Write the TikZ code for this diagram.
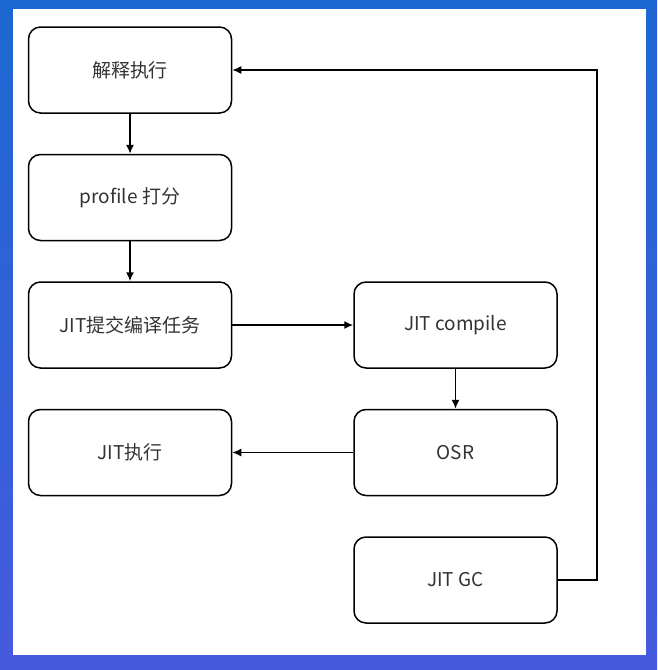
\documentclass[tikz,border=0pt]{standalone}
\usepackage{fontspec}
\setmainfont{Noto Sans CJK SC}
\usetikzlibrary{arrows.meta,positioning,shapes}
\definecolor{frametop}{RGB}{28,104,208}
\definecolor{framebot}{RGB}{70,90,222}

\begin{document}
\begin{tikzpicture}[x=1pt, y=1pt, node distance=40pt and 121pt, >={Latex[length=9pt,width=8pt]}, line width=1.5pt,
             block/.style = {draw, rectangle, rounded corners=12pt, minimum height=86pt, minimum width=203pt,
                             align=center, text=black!80, font=\fontsize{19}{23}\selectfont},
]
\shade[top color=frametop, bottom color=framebot, draw=none] (0,0) rectangle (657,-670);
\fill[white] (13,-9) rectangle (646,-655);
\useasboundingbox (0,0) rectangle (657,-670);
\node [block] at (130,-70)          (interp)  {解释执行};
\node [block, below=of interp]      (prof)    {profile 打分};
\node [block, below=of prof]        (submit)  {JIT提交编译任务};
\node [block, right=of submit]      (compile) {JIT compile};
\node [block, below=of compile]     (osr)     {OSR};
\node [block, left=of osr]          (jitrun)  {JIT执行};
\node [block, below=of osr]         (gc)      {JIT GC};
%% paths
\path[draw,->] (interp)   edge (prof)
               (prof)     edge (submit)
               (submit)   edge (compile)
               (compile)  edge (osr)
               (osr)      edge (jitrun)
                ;
\draw[->] (gc.east) -- ++(39,0) |- (interp.east);
\end{tikzpicture}
\end{document}
